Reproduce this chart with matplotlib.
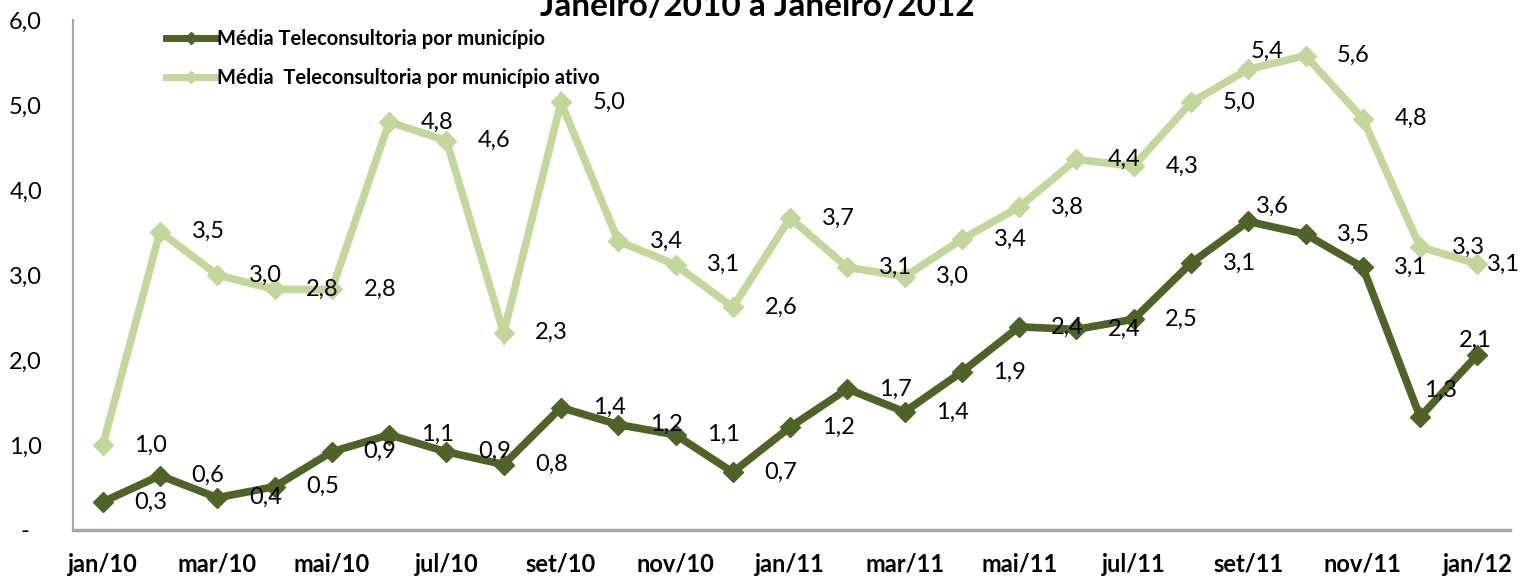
import matplotlib
matplotlib.use("Agg")
import matplotlib.pyplot as plt
from matplotlib.lines import Line2D

plt.rcParams['font.family'] = ['Lato', 'DejaVu Sans']

# ---- data ----
months = ["jan/10", "fev/10", "mar/10", "abr/10", "mai/10", "jun/10", "jul/10", "ago/10",
          "set/10", "out/10", "nov/10", "dez/10", "jan/11", "fev/11", "mar/11", "abr/11",
          "mai/11", "jun/11", "jul/11", "ago/11", "set/11", "out/11", "nov/11", "dez/11",
          "jan/12"]
media_municipio = [0.33, 0.64, 0.38, 0.51, 0.92, 1.12, 0.92, 0.77, 1.44, 1.24, 1.12, 0.68,
                   1.21, 1.66, 1.39, 1.86, 2.39, 2.36, 2.48, 3.14, 3.63, 3.48, 3.09, 1.33, 2.06]
media_ativo = [1.00, 3.51, 3.00, 2.83, 2.83, 4.80, 4.58, 2.32, 5.03, 3.40, 3.12, 2.62,
               3.67, 3.09, 2.98, 3.42, 3.80, 4.36, 4.28, 5.03, 5.42, 5.58, 4.84, 3.33, 3.13]
yticks = [0, 1, 2, 3, 4, 5, 6]
ytick_labels = ["-  ", "1,0", "2,0", "3,0", "4,0", "5,0", "6,0"]
label1 = "Média Teleconsultoria por município"
label2 = "Média  Teleconsultoria por município ativo"
title = "Janeiro/2010 a Janeiro/2012"

# ---- style ----
DARK = "#4F6228"
LIGHT = "#C3D69B"
W, H = 1525, 580
DPI = 100
FS = 17

fig = plt.figure(figsize=(W / DPI, H / DPI), dpi=DPI)
ax = fig.add_axes([73 / W, 50 / H, (1510 - 73) / W, (530 - 20) / H])

x = list(range(len(months)))
ax.plot(x, media_ativo, color=LIGHT, lw=5.5, marker='D', ms=10, mec=LIGHT, mfc=LIGHT,
        solid_joinstyle='miter', zorder=3)
ax.plot(x, media_municipio, color=DARK, lw=5.5, marker='D', ms=10, mec=DARK, mfc=DARK,
        solid_joinstyle='miter', zorder=4)

def fmt(v):
    return f"{v:.1f}".replace('.', ',')

default_off = (48, 0)
off_ativo = {20: (19, 18), 24: (26, 0)}
off_mun = {20: (24, 15), 23: (20, 27), 24: (-2, 15)}

for i, v in enumerate(media_ativo):
    dx, dy = off_ativo.get(i, default_off)
    ax.annotate(fmt(v), (i, v), xytext=(dx, dy), textcoords='offset pixels',
                ha='center', va='center', fontsize=FS, color='black', zorder=6)
for i, v in enumerate(media_municipio):
    dx, dy = off_mun.get(i, default_off)
    ax.annotate(fmt(v), (i, v), xytext=(dx, dy), textcoords='offset pixels',
                ha='center', va='center', fontsize=FS, color='black', zorder=6)

ax.set_xlim(-0.52, 24.57)
ax.set_ylim(0, 6)
ax.set_yticks(yticks)
ax.set_yticklabels(ytick_labels, fontsize=FS)
ax.set_xticks(x[::2])
ax.set_xticklabels(months[::2], fontsize=FS, fontweight='bold')
ax.tick_params(axis='y', length=0, pad=31 / 1.389)
ax.tick_params(axis='x', length=0, pad=23 / 1.389)

for s in ['top', 'right']:
    ax.spines[s].set_visible(False)
ax.spines['left'].set_color('#A6A6A6')
ax.spines['left'].set_linewidth(1.5)
ax.spines['bottom'].set_color('#A6A6A6')
ax.spines['bottom'].set_linewidth(2.5)
ax.set_facecolor('white')

handles = [Line2D([], [], color=DARK, lw=5, marker='D', ms=6),
           Line2D([], [], color=LIGHT, lw=5, marker='D', ms=6)]
fig.legend(handles, [label1, label2], loc='upper left',
           bbox_to_anchor=(156 / W, 1 - 19 / H), frameon=False,
           prop={'weight': 'bold', 'size': 14.5}, handlelength=2.5,
           handletextpad=0.05, labelspacing=0.95, borderpad=0)

fig.text(757 / W, 1 - 16 / H, title, ha='center', va='baseline',
         fontsize=24, fontweight='bold')

fig.savefig("out.png", dpi=DPI)
